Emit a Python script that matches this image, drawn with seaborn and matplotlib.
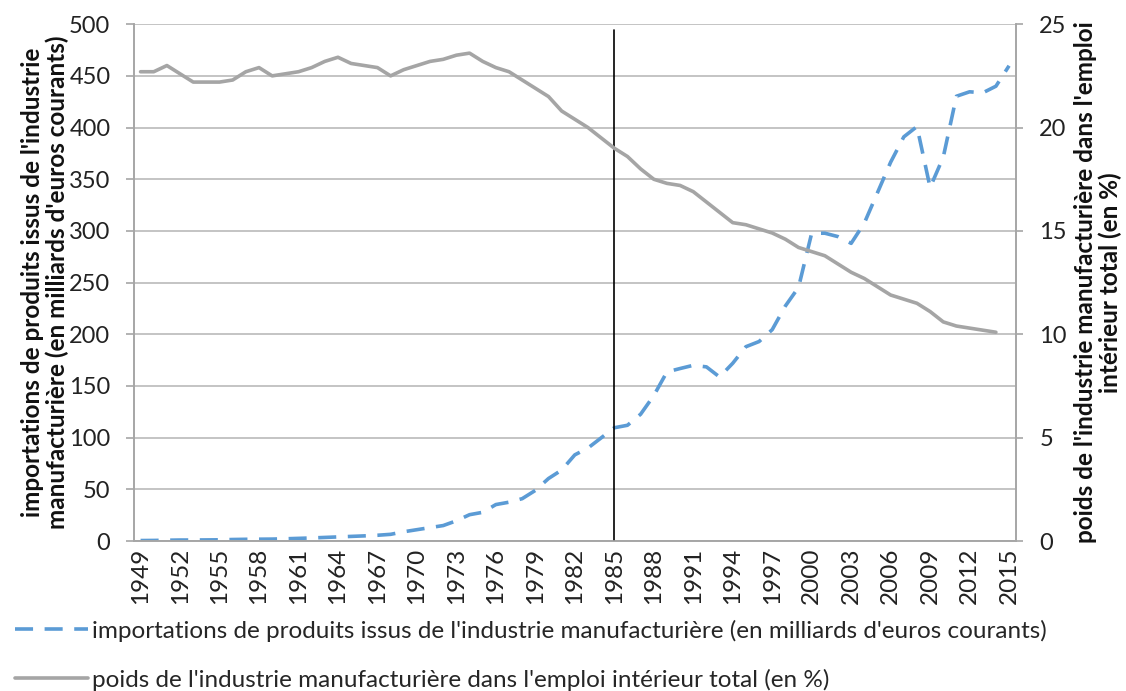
import numpy as np
import pandas as pd
import matplotlib
matplotlib.use("Agg")
import matplotlib.pyplot as plt
from matplotlib.ticker import FixedLocator
import seaborn as sns

years = list(range(1949, 2016))

# importations (milliards d'euros courants), axe de gauche
imports = [0.5, 0.6, 0.8, 1.0, 1.0, 1.1, 1.2, 1.5, 1.7, 1.8,
           1.9, 2.2, 2.6, 3.0, 3.5, 4.0, 4.5, 5.0, 5.6, 6.5,
           9.0, 11.0, 13.0, 15.0, 19.6, 25.5, 27.8, 35.3, 37.6, 41.0,
           49.0, 60.5, 68.7, 83.4, 90.0, 99.8, 109.6, 112.0, 122.7, 140.7,
           163.6, 166.9, 170.0, 168.5, 158.7, 172.0, 188.0, 193.0, 204.5, 227.4,
           245.4, 297.8, 297.8, 294.5, 288.0, 307.6, 337.0, 366.5, 391.0, 401.0,
           342.0, 371.4, 430.3, 434.6, 433.6, 440.0, 459.8]

# poids dans l'emploi interieur (%), axe de droite, 1949-2014
emploi = [22.7, 22.7, 23.0, 22.6, 22.2, 22.2, 22.2, 22.3, 22.7, 22.9,
          22.5, 22.6, 22.7, 22.9, 23.2, 23.4, 23.1, 23.0, 22.9, 22.5,
          22.8, 23.0, 23.2, 23.3, 23.5, 23.6, 23.2, 22.9, 22.7, 22.3,
          21.9, 21.5, 20.8, 20.4, 20.0, 19.5, 19.0, 18.6, 18.0, 17.5,
          17.3, 17.2, 16.9, 16.4, 15.9, 15.4, 15.3, 15.1, 14.9, 14.6,
          14.2, 14.0, 13.8, 13.4, 13.0, 12.7, 12.3, 11.9, 11.7, 11.5,
          11.1, 10.6, 10.4, 10.3, 10.2, 10.1]

left_ticks = [0, 50, 100, 150, 200, 250, 300, 350, 400, 450, 500]
right_ticks = [0, 5, 10, 15, 20, 25]
label_years = years[::3]

lab_imp = "importations de produits issus de l'industrie manufacturière (en milliards d'euros courants)"
lab_emp = "poids de l'industrie manufacturière dans l'emploi intérieur total (en %)"

df_imp = pd.DataFrame({"annee": years, "valeur": imports})
df_emp = pd.DataFrame({"annee": years[:len(emploi)], "valeur": emploi})

sns.set_theme(style="white")
plt.rcParams["font.family"] = ["Lato", "DejaVu Sans"]

blue = "#5B9BD5"
grey = "#A5A5A5"
axcol = "#A6A6A6"
txt = "#222222"

fig = plt.figure(figsize=(11.26, 6.91), dpi=100)
ax = fig.add_axes([0.119, 0.217, 0.783, 0.748])
ax2 = ax.twinx()

sns.lineplot(data=df_imp, x="annee", y="valeur", ax=ax, color=blue, linewidth=2.6)
ax.lines[-1].set_dashes([5, 3.2])
sns.lineplot(data=df_emp, x="annee", y="valeur", ax=ax2, color=grey, linewidth=2.6)

ax.axvline(1985, ymin=0, ymax=0.988, color="black", linewidth=1.2, zorder=5)

ax.set_xlim(1948.5, 2015.5)
ax.set_ylim(0, 500)
ax2.set_ylim(0, 25)
ax.set_yticks(left_ticks)
ax2.set_yticks(right_ticks)
ax.set_xticks(label_years)
ax.set_xticklabels([str(y) for y in label_years], rotation=90)
ax.xaxis.set_minor_locator(FixedLocator(np.arange(1948.5, 2016, 1.0)))

ax.yaxis.grid(True, color="#BFBFBF", linewidth=1.3)
ax.set_axisbelow(True)

for a in (ax, ax2):
    for s in a.spines.values():
        s.set_color(axcol)
        s.set_linewidth(1.2)
    a.spines["top"].set_visible(False)
    a.set_xlabel("")

ax.tick_params(axis="x", which="major", length=0, pad=5, labelsize=17.5, labelcolor=txt)
ax.tick_params(axis="x", which="minor", length=5, width=1.2, color=axcol, direction="out")
ax.tick_params(axis="y", length=6, width=1.2, color=axcol, direction="out", pad=11,
               labelsize=17, labelcolor=txt)
ax2.tick_params(axis="y", length=5, width=1.2, color=axcol, direction="out", pad=12,
                labelsize=17, labelcolor=txt)

ax.set_ylabel("importations de produits issus de l'industrie\nmanufacturière (en milliards d'euros courants)",
              fontsize=17.5, fontweight="bold", color="#111111", labelpad=0, linespacing=1.1)
ax2.set_ylabel("poids de l'industrie manufacturière dans l'emploi\nintérieur total (en %)",
               fontsize=17.5, fontweight="bold", color="#111111", rotation=90,
               labelpad=5, linespacing=1.1)

h1 = plt.Line2D([], [], color=blue, linewidth=2.6, dashes=[5, 3.2])
h2 = plt.Line2D([], [], color=grey, linewidth=2.6)
fig.legend([h1, h2], [lab_imp, lab_emp], loc="upper left", bbox_to_anchor=(0.013, 0.103),
           frameon=False, fontsize=17.5, handlelength=3.0, handletextpad=0.2,
           labelspacing=1.1, borderpad=0, borderaxespad=0)

fig.savefig("out.png", dpi=100)
